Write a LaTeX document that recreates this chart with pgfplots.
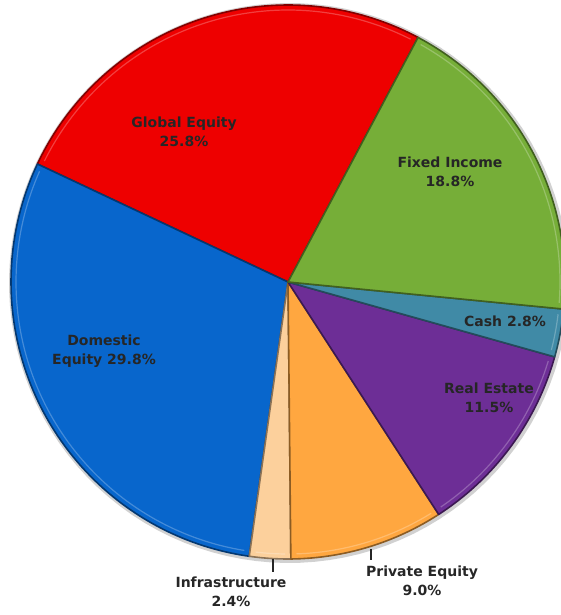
\documentclass[border=0pt]{standalone}
\usepackage{pgfplots}
\pgfplotsset{compat=1.18}
\usepackage{fontspec}
\setmainfont{DejaVu Sans}

\definecolor{cGlobal}{RGB}{238,0,0}
\definecolor{cDomestic}{RGB}{8,102,204}
\definecolor{cFixed}{RGB}{118,174,56}
\definecolor{cCash}{RGB}{64,138,166}
\definecolor{cReal}{RGB}{109,46,150}
\definecolor{cPrivate}{RGB}{255,167,64}
\definecolor{cInfra}{RGB}{252,208,156}
\definecolor{txt}{RGB}{38,38,38}

\tikzset{lbl/.style={font=\bfseries\fontsize{10.5}{14.2}\selectfont, text=txt, align=center, inner sep=0pt}}

% shares in percent, counter-clockwise from the Global/Fixed boundary
\pgfmathsetmacro\aA{62}
\pgfmathsetmacro\aB{\aA+3.5964*25.8} % Global Equity
\pgfmathsetmacro\aC{\aB+3.5964*29.8} % Domestic Equity
\pgfmathsetmacro\aD{\aC+3.5964*2.4}  % Infrastructure
\pgfmathsetmacro\aE{\aD+3.5964*9.0}  % Private Equity
\pgfmathsetmacro\aF{\aE+3.5964*11.5} % Real Estate
\pgfmathsetmacro\aG{\aF+3.5964*2.8}  % Cash
\pgfmathsetmacro\aH{\aG+3.5964*18.8} % Fixed Income

\newcommand\slice[3]{%
  \addplot[fill=#3, draw=#3!55!black, line width=1.2pt, line join=round,
    domain=#1:#2, samples=90]
    ({288+277*cos(x)},{333+277*sin(x)}) -- (axis cs:288,333) -- cycle;
  \addplot[draw=#3!55!white, line width=0.9pt, opacity=0.55,
    domain=#1+1.2:#2-1.2, samples=90]
    ({288+272*cos(x)},{333+272*sin(x)});
}

\begin{document}
\begin{tikzpicture}
\begin{axis}[
  width=420.75pt, height=461.25pt, scale only axis,
  hide axis, clip=true,
  xmin=0, xmax=561, ymin=0, ymax=615,
]
% soft shadow
\addplot[fill=black, opacity=0.18, draw=none, domain=0:360, samples=120]
  ({289+280*cos(x)},{332+280*sin(x)}) -- cycle;

\slice{\aA}{\aB}{cGlobal}
\slice{\aB}{\aC}{cDomestic}
\slice{\aC}{\aD}{cInfra}
\slice{\aD}{\aE}{cPrivate}
\slice{\aE}{\aF}{cReal}
\slice{\aF}{\aG}{cCash}
\slice{\aG}{\aH}{cFixed}

\node[lbl] at (axis cs:184,483) {Global Equity\\25.8\%};
\node[lbl] at (axis cs:450,443) {Fixed Income\\18.8\%};
\node[lbl] at (axis cs:505,294) {Cash 2.8\%};
\node[lbl] at (axis cs:489,217) {Real Estate\\11.5\%};
\node[lbl] at (axis cs:104,264) {Domestic\\Equity 29.8\%};
\node[lbl] at (axis cs:422,34) {Private Equity\\9.0\%};
\node[lbl] at (axis cs:231,23) {Infrastructure\\2.4\%};
\draw[txt, line width=0.8pt] (axis cs:371,66) -- (axis cs:371,55);
\draw[txt, line width=0.8pt] (axis cs:273,56) -- (axis cs:273,43);
\end{axis}
\pgfresetboundingbox
\path (current axis.south west) rectangle (current axis.north east);
\end{tikzpicture}
\end{document}
